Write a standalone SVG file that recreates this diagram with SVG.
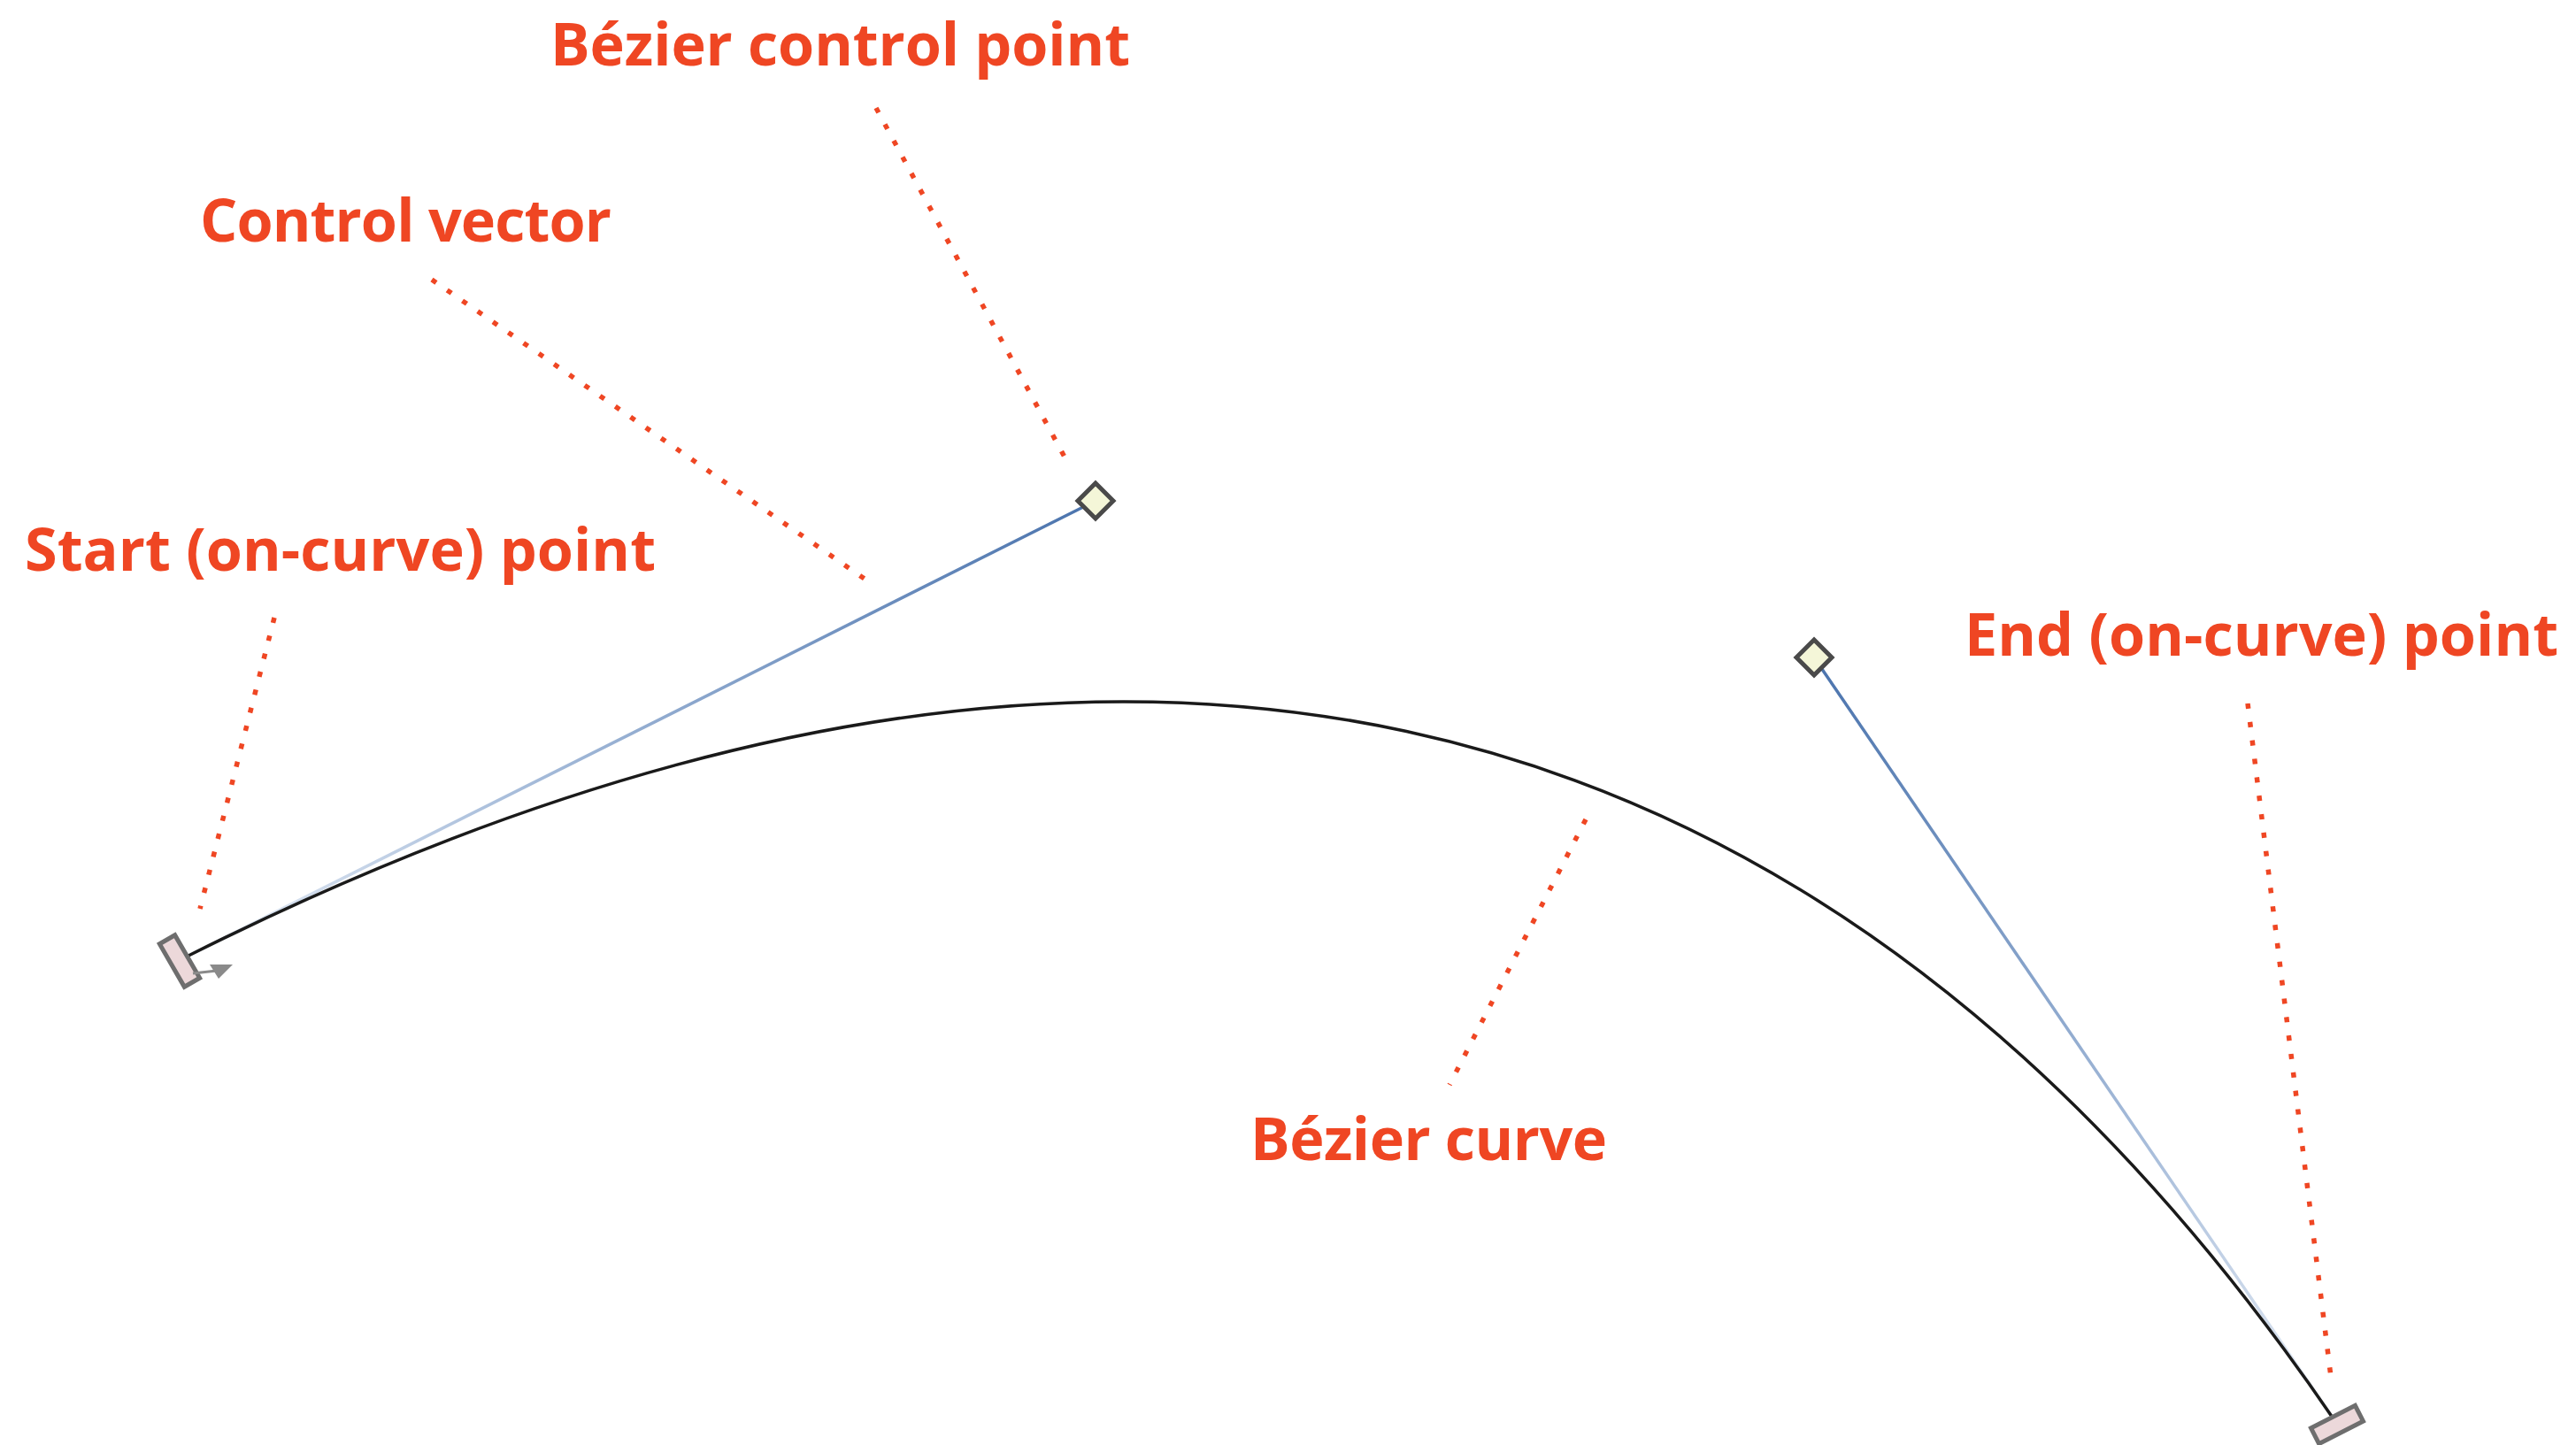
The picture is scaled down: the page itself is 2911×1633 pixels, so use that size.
<svg xmlns="http://www.w3.org/2000/svg" width="2911" height="1633" viewBox="0 0 2911 1633">
<style>
.lbl{font-family:"Open Sans","Liberation Sans",sans-serif;font-weight:700;font-size:66.5px;fill:#ef4623}
.lead{stroke:#ef4623;stroke-width:5.5;stroke-dasharray:6 15;fill:none}
.diamond{fill:#f4f6d8;stroke:#4a4a4a;stroke-width:5}
.handle{fill:#ecd8da;stroke:#6e6e6e;stroke-width:5}
</style>
<defs>
<linearGradient id="g1" gradientUnits="userSpaceOnUse" x1="213" y1="1080" x2="1238" y2="566">
<stop offset="0" stop-color="#e8eef6"/><stop offset="0.35" stop-color="#a9bedb"/><stop offset="1" stop-color="#4a73ad"/>
</linearGradient>
<linearGradient id="g2" gradientUnits="userSpaceOnUse" x1="2638" y1="1605" x2="2050" y2="743">
<stop offset="0" stop-color="#e8eef6"/><stop offset="0.35" stop-color="#a9bedb"/><stop offset="1" stop-color="#4a73ad"/>
</linearGradient>
</defs>
<rect width="2911" height="1633" fill="#fff"/>
<g id="connectors">
<line x1="213" y1="1080" x2="1238" y2="566" stroke="url(#g1)" stroke-width="3.5"/>
<line x1="2638" y1="1605" x2="2050" y2="743" stroke="url(#g2)" stroke-width="3.5"/>
<path d="M213,1080 C1238,566 2050,743 2638,1605" fill="none" stroke="#1a1a1a" stroke-width="3.5"/>
<line class="lead" x1="990" y1="122" x2="1206" y2="522"/>
<line class="lead" x1="488" y1="316" x2="984" y2="659"/>
<line class="lead" x1="310" y1="698" x2="226" y2="1027"/>
<line class="lead" x1="2540" y1="795" x2="2634" y2="1556"/>
<line class="lead" x1="1792" y1="926" x2="1638" y2="1226"/>
</g>
<g id="start-point">
<rect class="handle" x="-28" y="-10" width="56" height="20" transform="translate(203,1086) rotate(60)"/>
<line x1="218" y1="1100" x2="245" y2="1097" stroke="#8a8a8a" stroke-width="3"/>
<polygon points="263,1090 237,1090 247,1106" fill="#8a8a8a"/>
</g>
<g id="control-point-1">
<polygon class="diamond" points="1238,546 1258,566 1238,586 1218,566"/>
</g>
<g id="control-point-2">
<polygon class="diamond" points="2050,723 2070,743 2050,763 2030,743"/>
</g>
<g id="end-point">
<rect class="handle" x="-28" y="-10" width="56" height="20" transform="translate(2641,1610) rotate(-27)"/>
</g>
<g id="labels">
<text class="lbl" x="622" y="74" textLength="655">Bézier control point</text>
<text class="lbl" x="226" y="273" textLength="465">Control vector</text>
<text class="lbl" x="28" y="645" textLength="713">Start (on-curve) point</text>
<text class="lbl" x="2220" y="741" textLength="671">End (on-curve) point</text>
<text class="lbl" x="1413" y="1311" textLength="403">Bézier curve</text>
</g>
</svg>
